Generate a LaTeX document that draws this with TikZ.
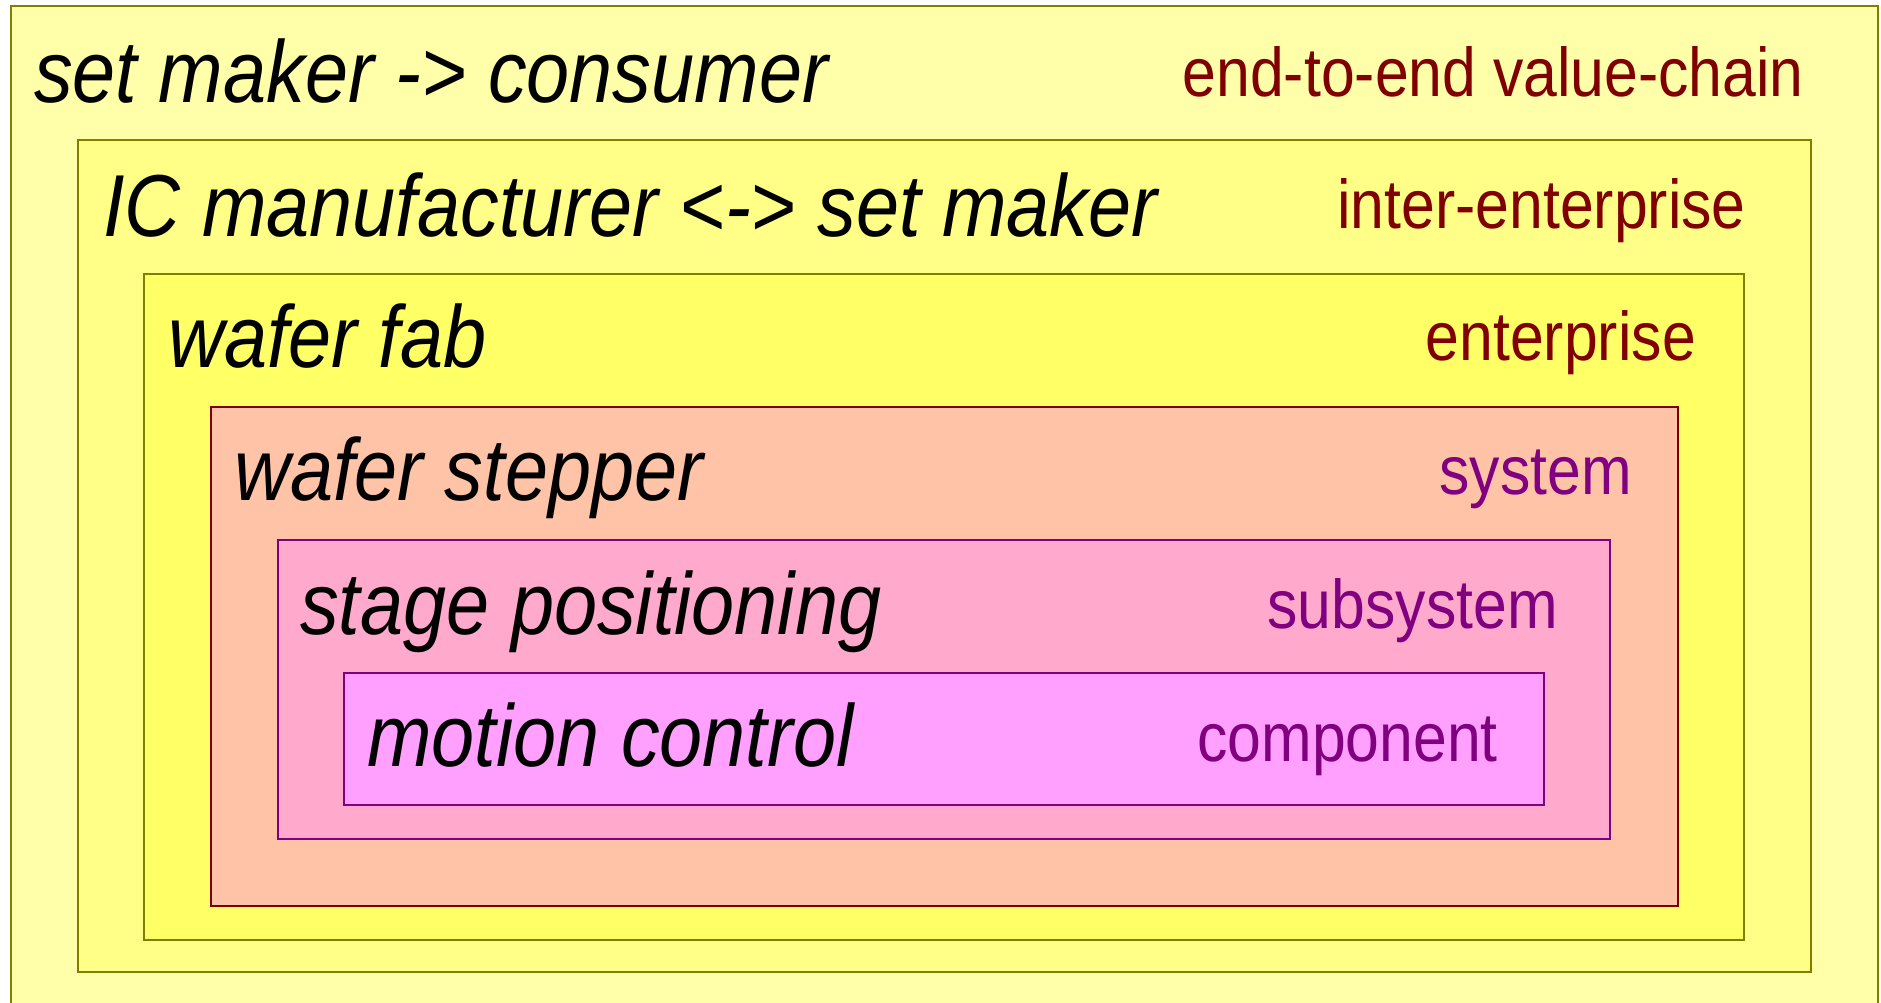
\documentclass[tikz,border=0pt]{standalone}
\usepackage{fontspec}
\setmainfont{Liberation Sans}
\usepackage{graphicx}
\definecolor{olivebd}{HTML}{808000}
\definecolor{redbd}{HTML}{800000}
\definecolor{purpbd}{HTML}{800080}
\definecolor{fillA}{HTML}{FFFFAA}
\definecolor{fillB}{HTML}{FFFF88}
\definecolor{fillC}{HTML}{FFFF66}
\definecolor{fillD}{HTML}{FFC4A8}
\definecolor{fillE}{HTML}{FFAACC}
\definecolor{fillF}{HTML}{FFA0FF}
\begin{document}
\begin{tikzpicture}[x=1pt,y=-1pt,
  ttl/.style={anchor=base west, inner sep=0pt, font=\fontsize{88}{100}\selectfont\itshape},
  lab/.style={anchor=base east, inner sep=0pt, font=\fontsize{69}{80}\selectfont},
  lvl/.style={line width=2pt}]
\useasboundingbox (0,0) rectangle (1881,1002);
\clip (0,0) rectangle (1881,1002);
\fill[white] (0,0) rectangle (1881,1002);
\draw[lvl, draw=olivebd, fill=fillA] (11,6) rectangle (1878,1030);
\draw[lvl, draw=olivebd, fill=fillB] (78,140) rectangle (1811,972);
\draw[lvl, draw=olivebd, fill=fillC] (144,274) rectangle (1744,940);
\draw[lvl, draw=redbd, fill=fillD] (211,407) rectangle (1678,906);
\draw[lvl, draw=purpbd, fill=fillE] (278,540) rectangle (1610,839);
\draw[lvl, draw=purpbd, fill=fillF] (344,673) rectangle (1544,805);

\node[ttl] (t1) at (34,102) {\scalebox{0.88}[1]{set maker -> consumer}};
\node[ttl] (t2) at (103,236) {\scalebox{0.88}[1]{IC manufacturer <-> set maker}};
\node[ttl] (t3) at (168,367) {\scalebox{0.88}[1]{wafer fab}};
\node[ttl] (t4) at (234,500) {\scalebox{0.88}[1]{wafer stepper}};
\node[ttl] (t5) at (300,634) {\scalebox{0.88}[1]{stage positioning}};
\node[ttl] (t6) at (367,766) {\scalebox{0.88}[1]{motion control}};

\node[lab, text=redbd] (l1) at (1804,96) {\scalebox{0.88}[1]{end-to-end value-chain}};
\node[lab, text=redbd] (l2) at (1746,228) {\scalebox{0.88}[1]{inter-enterprise}};
\node[lab, text=redbd] (l3) at (1696,360) {\scalebox{0.88}[1]{enterprise}};
\node[lab, text=purpbd] (l4) at (1632,494) {\scalebox{0.88}[1]{system}};
\node[lab, text=purpbd] (l5) at (1558,628) {\scalebox{0.88}[1]{subsystem}};
\node[lab, text=purpbd] (l6) at (1498,761) {\scalebox{0.88}[1]{component}};
\end{tikzpicture}
\end{document}
